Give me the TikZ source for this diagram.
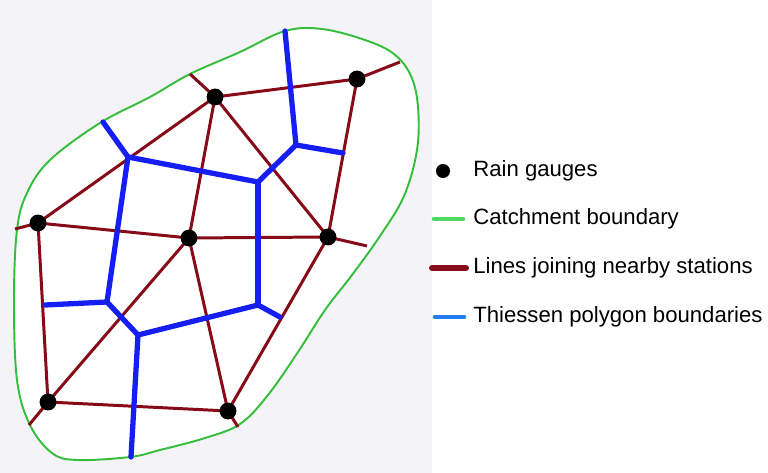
\documentclass[tikz,border=0pt]{standalone}
\usepackage{fontspec}
\setmainfont{Liberation Sans}
\usepackage{tikz}
\usetikzlibrary{calc, positioning}

\definecolor{catchgreen}{RGB}{52,190,60}
\definecolor{legendgreen}{RGB}{80,215,100}
\definecolor{joinred}{RGB}{135,10,25}
\definecolor{polyblue}{RGB}{20,30,245}
\definecolor{legendblue}{RGB}{35,125,240}
\definecolor{paper}{RGB}{244,243,247}

\tikzset{
  gauge/.style={circle, fill=black, inner sep=0pt, minimum size=9.6pt},
  joinline/.style={joinred, line width=1.7pt},
  polyline/.style={polyblue, line width=3pt, line cap=round, line join=round},
  boundline/.style={catchgreen, line width=1.1pt},
  legtext/.style={anchor=west, font=\fontsize{12.6}{15}\selectfont, inner sep=0pt}
}

\begin{document}
\begin{tikzpicture}[x=0.02cm, y=-0.02cm]
    \useasboundingbox (0,0) rectangle (768,473);
    \fill[paper] (0,0) rectangle (432,473);

    % catchment
    \filldraw[boundline, fill=white] plot[smooth cycle, tension=0.6] coordinates {
        (285,31) (322,29) (365,40) (394,54) (411,76) (418,107) (417,150)
        (404,196) (380,236) (352,275) (325,310) (298,352) (268,395)
        (240,424) (205,438) (160,450) (130,457) (77,460) (52,453)
        (30,425) (17,380) (14,300) (17,230) (27,193) (50,160)
        (100,123) (150,97) (190,74) (240,52)};

    % gauges
    \coordinate (g1) at (215,97);
    \coordinate (g2) at (357,79);
    \coordinate (g3) at (38,223);
    \coordinate (g4) at (189,238);
    \coordinate (g5) at (328,237);
    \coordinate (g6) at (48,402);
    \coordinate (g7) at (228,411);

    % free ends of joining lines
    \coordinate (r1) at (190,74);
    \coordinate (r2) at (400,62);
    \coordinate (r3) at (15,229);
    \coordinate (r5) at (367,246);
    \coordinate (r6) at (29,425);
    \coordinate (r7) at (238,427);

    \foreach \a/\b in {g1/g2, g1/g3, g1/g4, g1/g5, g2/g5, g3/g4, g4/g5,
                       g3/g6, g4/g6, g4/g7, g5/g7, g6/g7,
                       g1/r1, g2/r2, g3/r3, g5/r5, g6/r6, g7/r7}
        \draw[joinline] (\a) -- (\b);

    % thiessen polygon vertices
    \coordinate (t1) at (285,31);
    \coordinate (t2) at (296,145);
    \coordinate (t3) at (343,153);
    \coordinate (t4) at (258,182);
    \coordinate (t5) at (128,157);
    \coordinate (t6) at (103,122);
    \coordinate (t7) at (107,302);
    \coordinate (t8) at (45,305);
    \coordinate (t9) at (138,335);
    \coordinate (t10) at (131,457);
    \coordinate (t11) at (258,305);
    \coordinate (t12) at (280,317);

    \foreach \a/\b in {t1/t2, t2/t3, t2/t4, t4/t5, t5/t6, t5/t7, t7/t8,
                       t7/t9, t9/t10, t9/t11, t4/t11, t11/t12}
        \draw[polyline] (\a) -- (\b);

    \foreach \g in {1,...,7}
        \node[gauge] (G\g) at (g\g) {};

    % legend
    \node[gauge, minimum size=8pt] (kdot) at (443,171) {};
    \node[legtext] (kgauge) at (473,171) {Rain gauges};
    \node[legtext] (kcatch) at (473,219) {Catchment boundary};
    \node[legtext] (kjoin) at (473,268) {Lines joining nearby stations};
    \node[legtext] (kpoly) at (473,317) {Thiessen polygon boundaries};

    \coordinate (ka) at (434,219);
    \coordinate (kb) at (463,219);
    \coordinate (kc) at (432,268);
    \coordinate (kd) at (466,268);
    \coordinate (ke) at (435,317);
    \coordinate (kf) at (464,317);
    \draw[legendgreen, line width=2.6pt, line cap=round] (ka) -- (kb);
    \draw[joinred, line width=3.4pt, line cap=round] (kc) -- (kd);
    \draw[legendblue, line width=2.6pt, line cap=round] (ke) -- (kf);
\end{tikzpicture}
\end{document}
